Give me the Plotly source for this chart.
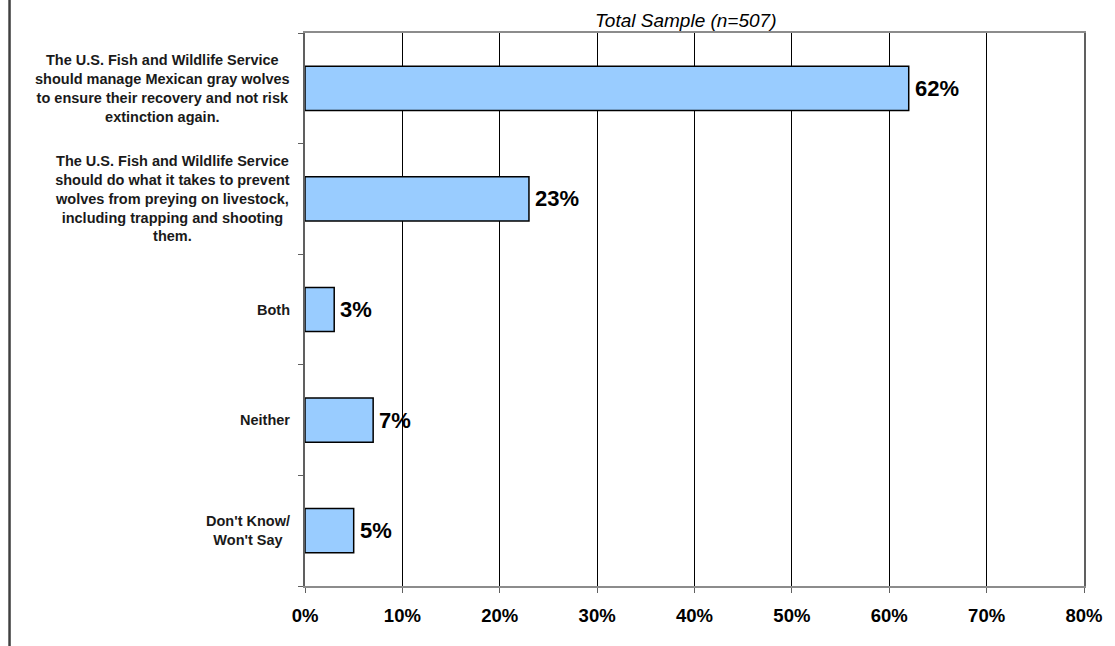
import plotly.graph_objects as go

categories = [
    "The U.S. Fish and Wildlife Service<br>should manage Mexican gray wolves<br>to ensure their recovery and not risk<br>extinction again.",
    "The U.S. Fish and Wildlife Service<br>should do what it takes to prevent<br>wolves from preying on livestock,<br>including trapping and shooting<br>them.",
    "Both",
    "Neither",
    "Don't Know/<br>Won't Say",
]
values = [62, 23, 3, 7, 5]
x_ticks = [0, 10, 20, 30, 40, 50, 60, 70, 80]
title_text = "Total Sample (n=507)"

W, H = 1115, 646
ML, MR, MT, MB = 305, 23, 33, 60
PW, PH = W - ML - MR, H - MT - MB

FONT = "Liberation Sans, Arial, sans-serif"

fig = go.Figure()
fig.add_trace(go.Bar(
    y=list(range(len(categories))),
    x=values,
    orientation="h",
    width=0.4,
    marker=dict(color="#99CCFF", line=dict(color="#000000", width=1.5)),
    hoverinfo="skip",
))

annotations = []
for i, lab in enumerate(categories):
    annotations.append(dict(
        xref="paper", yref="y", x=-(13 / PW), y=i,
        text=lab, showarrow=False, xanchor="right", yanchor="middle", align="center",
        font=dict(family=FONT, size=14.5, color="#1a1a1a", weight="bold"),
    ))
    annotations.append(dict(
        xref="x", yref="y", x=values[i], y=i,
        text=f"{values[i]}%", showarrow=False, xanchor="left", yanchor="middle",
        xshift=4,
        font=dict(family=FONT, size=22, color="#000000", weight="bold"),
    ))

annotations.append(dict(
    xref="paper", yref="paper", x=(690 - ML) / PW, y=1 + (MT - 21) / PH,
    text=f"<i>{title_text}</i>", showarrow=False, xanchor="center", yanchor="middle",
    font=dict(family=FONT, size=19, color="#000000"),
))

fig.update_layout(
    width=W, height=H,
    margin=dict(l=ML, r=MR, t=MT, b=MB, pad=0),
    plot_bgcolor="#FFFFFF", paper_bgcolor="#FFFFFF",
    showlegend=False,
    annotations=annotations,
    shapes=[dict(
        type="line", xref="paper", yref="paper",
        x0=(6.5 - ML) / PW, x1=(6.5 - ML) / PW, y0=-MB / PH, y1=1 + MT / PH,
        line=dict(color="#404040", width=2.5),
    )],
)
fig.update_xaxes(
    range=[0, 80], tickvals=x_ticks, ticktext=[f"{t}%" for t in x_ticks],
    showgrid=True, gridcolor="#000000", gridwidth=1,
    showline=True, linecolor="#8c8c8c", linewidth=1.5, mirror=True,
    ticks="outside", ticklen=5, tickcolor="#606060",
    ticklabelstandoff=7,
    tickfont=dict(family=FONT, size=18.5, color="#000000", weight="bold"),
    zeroline=False, fixedrange=True,
)
fig.update_yaxes(
    range=[len(categories) - 0.5, -0.5],
    tickvals=[k - 0.5 for k in range(len(categories) + 1)],
    showticklabels=False,
    ticks="outside", ticklen=5, tickcolor="#606060",
    showgrid=False, zeroline=False,
    showline=True, linecolor="#606060", linewidth=1.5, mirror=True,
    fixedrange=True,
)

fig.write_html(
    "out.html",
    config={"displayModeBar": False},
    post_script="document.body.style.margin='0px';",
)
